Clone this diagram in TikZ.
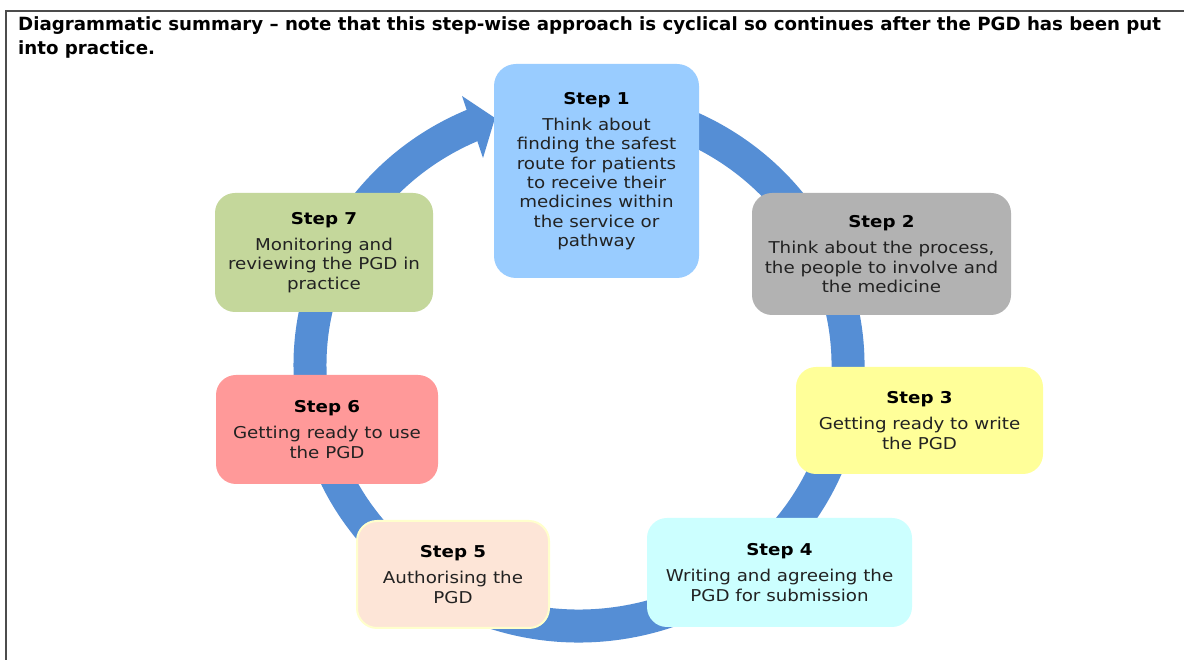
\documentclass[tikz,border=0pt]{standalone}
\usepackage{fontspec}
\setmainfont{DejaVu Sans}
\newfontfamily\bodyfont[FakeStretch=1.12]{DejaVu Sans}
\definecolor{ringblue}{HTML}{558ED5}
\definecolor{cA}{HTML}{99CCFF}
\definecolor{cB}{HTML}{B2B2B2}
\definecolor{cC}{HTML}{FFFF99}
\definecolor{cD}{HTML}{CCFFFF}
\definecolor{cE}{HTML}{FDE5D7}
\definecolor{cEb}{HTML}{FFFFCC}
\definecolor{cF}{HTML}{FF9999}
\definecolor{cG}{HTML}{C4D79B}
\definecolor{bodytext}{HTML}{222222}
\begin{document}
\begin{tikzpicture}[x=1pt,y=1pt,
  stepbox/.style={rounded corners=22pt, inner sep=0pt, align=center,
    font=\bodyfont\fontsize{16.3}{19.3}\selectfont, text=bodytext},
  ring/.style={draw=ringblue, line width=33pt},
  titletext/.style={anchor=base west, font=\bfseries\fontsize{18.2}{24}\selectfont, inner sep=0pt}]
\useasboundingbox (0,0) rectangle (1184,660);
\fill[white] (0,0) rectangle (1184,660);
\draw[line width=1.5pt, black!70] (6,0) -- (6,649) -- (1184,649);
\node[titletext] (t1) at (18,629) {Diagrammatic summary – note that this step-wise approach is cyclical so continues after the PGD has been put};
\node[titletext] (t2) at (18,605) {into practice.};
% ring
\coordinate (rc) at (579,295);
\draw[ring] ([shift={(100:269 and 261)}]rc) arc[start angle=100, end angle=-247.5, x radius=269, y radius=261];
\coordinate (hA) at (462,564);
\coordinate (hT) at (495,542);
\coordinate (hB) at (483,502);
\fill[ringblue] (hA) -- (hT) -- (hB) -- cycle;
% boxes
\node[stepbox, fill=cA, minimum width=205pt, minimum height=214pt] (s1) at (596.5,489)
  {\textbf{\textcolor{black}{Step 1}}\\[7pt]Think about\\finding the safest\\route for patients\\to receive their\\medicines within\\the service or\\pathway};
\node[stepbox, fill=cB, rounded corners=20pt, minimum width=259pt, minimum height=122pt] (s2) at (881.5,406)
  {\textbf{\textcolor{black}{Step 2}}\\[7pt]Think about the process,\\the people to involve and\\the medicine};
\node[stepbox, fill=cC, rounded corners=20pt, minimum width=247pt, minimum height=107pt] (s3) at (919.5,239.5)
  {\textbf{\textcolor{black}{Step 3}}\\[7pt]Getting ready to write\\the PGD};
\node[stepbox, fill=cD, rounded corners=20pt, minimum width=265pt, minimum height=109pt] (s4) at (779.5,87.5)
  {\textbf{\textcolor{black}{Step 4}}\\[7pt]Writing and agreeing the\\PGD for submission};
\node[stepbox, fill=cE, draw=cEb, line width=2pt, rounded corners=20pt, minimum width=192pt, minimum height=107pt] (s5) at (453,85.5)
  {\textbf{\textcolor{black}{Step 5}}\\[7pt]Authorising the\\PGD};
\node[stepbox, fill=cF, rounded corners=20pt, minimum width=222pt, minimum height=109pt] (s6) at (327,230.5)
  {\textbf{\textcolor{black}{Step 6}}\\[7pt]Getting ready to use\\the PGD};
\node[stepbox, fill=cG, rounded corners=20pt, minimum width=218pt, minimum height=119pt] (s7) at (324,407.5)
  {\textbf{\textcolor{black}{Step 7}}\\[7pt]Monitoring and\\reviewing the PGD in\\practice};
\end{tikzpicture}
\end{document}
